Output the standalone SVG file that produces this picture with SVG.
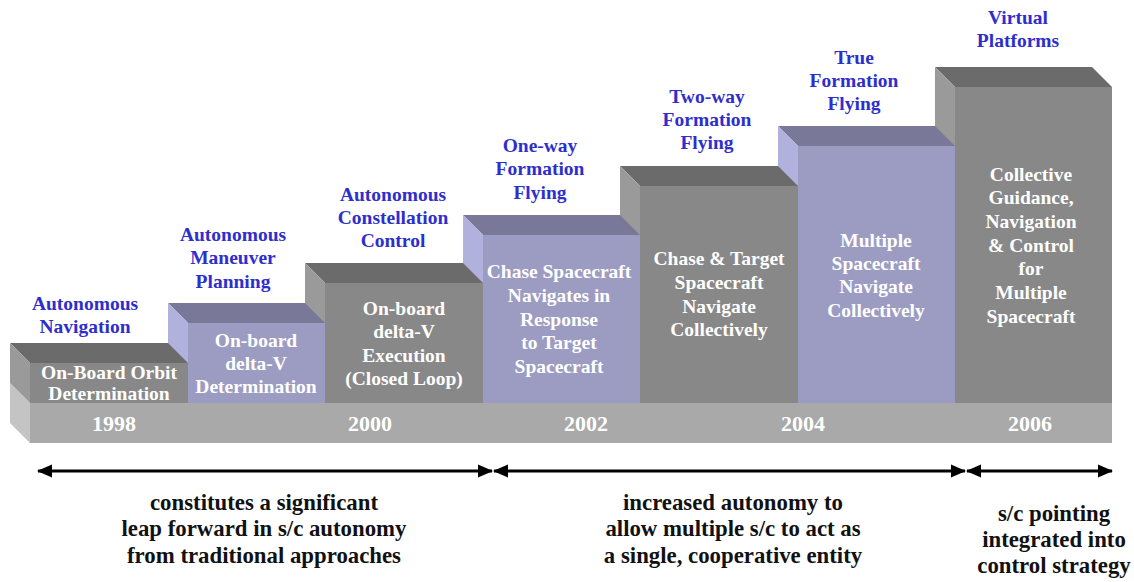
<svg xmlns="http://www.w3.org/2000/svg" width="1134" height="582" viewBox="0 0 1134 582" font-family="Liberation Serif, Times New Roman, serif" font-weight="bold">
<defs>
<style>
.gf{fill:#888888}.gt{fill:#6b6b6b}.gs{fill:#9a9a9a}
.pf{fill:#9c9cc2}.pt{fill:#7a7898}.ps{fill:#b1b1de}
.bf{fill:#a9a9a9}.bs{fill:#c4c4c4}
text{text-anchor:middle}
.w{fill:#ffffff;font-size:19.5px}
.b{fill:#2e2ecc;font-size:19.5px}
.y{fill:#ffffff;font-size:22px}
.k{fill:#111111;font-size:22.8px}
.arr{stroke:#000;stroke-width:3;fill:none;marker-start:url(#ah);marker-end:url(#ah)}
</style>
<marker id="ah" markerUnits="userSpaceOnUse" markerWidth="16" markerHeight="14" refX="14" refY="6.5" orient="auto-start-reverse" viewBox="0 0 16 13">
<path d="M0,0 L15,6.5 L0,13 z" fill="#000"/>
</marker>
</defs>
<rect width="1134" height="582" fill="#ffffff"/>

<g id="base">
<polygon class="bs" points="10,383 30,403 30,443 10,423"/>
<rect class="bf" x="30" y="403" width="1082" height="40"/>
<text class="y" x="114" y="431">1998</text>
<text class="y" x="370" y="431">2000</text>
<text class="y" x="586" y="431">2002</text>
<text class="y" x="803" y="431">2004</text>
<text class="y" x="1030" y="431">2006</text>
</g>

<g id="box7">
<polygon class="gt" points="935,67 1092,67 1112,87 955,87"/>
<polygon class="gs" points="935,67 955,87 955,403 935,383"/>
<rect class="gf" x="955" y="87" width="157" height="316"/>
<text class="w" x="1031" y="181">Collective</text>
<text class="w" x="1031" y="204">Guidance,</text>
<text class="w" x="1031" y="228">Navigation</text>
<text class="w" x="1031" y="252">&amp; Control</text>
<text class="w" x="1031" y="275">for</text>
<text class="w" x="1031" y="299">Multiple</text>
<text class="w" x="1031" y="323">Spacecraft</text>
<text class="b" x="1018" y="24">Virtual</text>
<text class="b" x="1018" y="47">Platforms</text>
</g>

<g id="box6">
<polygon class="pt" points="778,126 935,126 955,146 798,146"/>
<polygon class="ps" points="778,126 798,146 798,403 778,383"/>
<rect class="pf" x="798" y="146" width="157" height="257"/>
<text class="w" x="876" y="247">Multiple</text>
<text class="w" x="876" y="270">Spacecraft</text>
<text class="w" x="876" y="293">Navigate</text>
<text class="w" x="876" y="317">Collectively</text>
<text class="b" x="854" y="64">True</text>
<text class="b" x="854" y="87">Formation</text>
<text class="b" x="854" y="110">Flying</text>
</g>

<g id="box5">
<polygon class="gt" points="620,166 778,166 798,186 640,186"/>
<polygon class="gs" points="620,166 640,186 640,403 620,383"/>
<rect class="gf" x="640" y="186" width="158" height="217"/>
<text class="w" x="719" y="265">Chase &amp; Target</text>
<text class="w" x="719" y="289">Spacecraft</text>
<text class="w" x="719" y="313">Navigate</text>
<text class="w" x="719" y="336">Collectively</text>
<text class="b" x="707" y="103">Two-way</text>
<text class="b" x="707" y="126">Formation</text>
<text class="b" x="707" y="149">Flying</text>
</g>

<g id="box4">
<polygon class="pt" points="463,215 620,215 640,235 483,235"/>
<polygon class="ps" points="463,215 483,235 483,403 463,383"/>
<rect class="pf" x="483" y="235" width="157" height="168"/>
<text class="w" x="559" y="278">Chase Spacecraft</text>
<text class="w" x="559" y="302">Navigates in</text>
<text class="w" x="559" y="326">Response</text>
<text class="w" x="559" y="349">to Target</text>
<text class="w" x="559" y="373">Spacecraft</text>
<text class="b" x="540" y="152">One-way</text>
<text class="b" x="540" y="175">Formation</text>
<text class="b" x="540" y="199">Flying</text>
</g>

<g id="box3">
<polygon class="gt" points="305,263 463,263 483,283 325,283"/>
<polygon class="gs" points="305,263 325,283 325,403 305,383"/>
<rect class="gf" x="325" y="283" width="158" height="120"/>
<text class="w" x="404" y="315">On-board</text>
<text class="w" x="404" y="338">delta-V</text>
<text class="w" x="404" y="362">Execution</text>
<text class="w" x="404" y="385">(Closed Loop)</text>
<text class="b" x="393" y="201">Autonomous</text>
<text class="b" x="393" y="224">Constellation</text>
<text class="b" x="393" y="247">Control</text>
</g>

<g id="box2">
<polygon class="pt" points="168,303 305,303 325,323 188,323"/>
<polygon class="ps" points="168,303 188,323 188,403 168,383"/>
<rect class="pf" x="188" y="323" width="137" height="80"/>
<text class="w" x="256" y="347">On-board</text>
<text class="w" x="256" y="370">delta-V</text>
<text class="w" x="256" y="393">Determination</text>
<text class="b" x="233" y="241">Autonomous</text>
<text class="b" x="233" y="264">Maneuver</text>
<text class="b" x="233" y="288">Planning</text>
</g>

<g id="box1">
<polygon class="gt" points="10,343 168,343 188,363 30,363"/>
<polygon class="gs" points="10,343 30,363 30,403 10,383"/>
<rect class="gf" x="30" y="363" width="158" height="40"/>
<text class="w" x="109" y="379">On-Board Orbit</text>
<text class="w" x="109" y="400">Determination</text>
<text class="b" x="85" y="310">Autonomous</text>
<text class="b" x="85" y="333">Navigation</text>
</g>

<g id="connectors">
<line class="arr" x1="38" y1="471" x2="492" y2="471"/>
<line class="arr" x1="494" y1="471" x2="965" y2="471"/>
<line class="arr" x1="967" y1="471" x2="1112" y2="471"/>
</g>

<g id="notes">
<text class="k" x="264" y="510">constitutes a significant</text>
<text class="k" x="264" y="536">leap forward in s/c autonomy</text>
<text class="k" x="264" y="563">from traditional approaches</text>
<text class="k" x="733" y="510">increased autonomy to</text>
<text class="k" x="733" y="536">allow multiple s/c to act as</text>
<text class="k" x="733" y="563">a single, cooperative entity</text>
<text class="k" x="1054" y="521">s/c pointing</text>
<text class="k" x="1054" y="547">integrated into</text>
<text class="k" x="1054" y="573">control strategy</text>
</g>
</svg>
